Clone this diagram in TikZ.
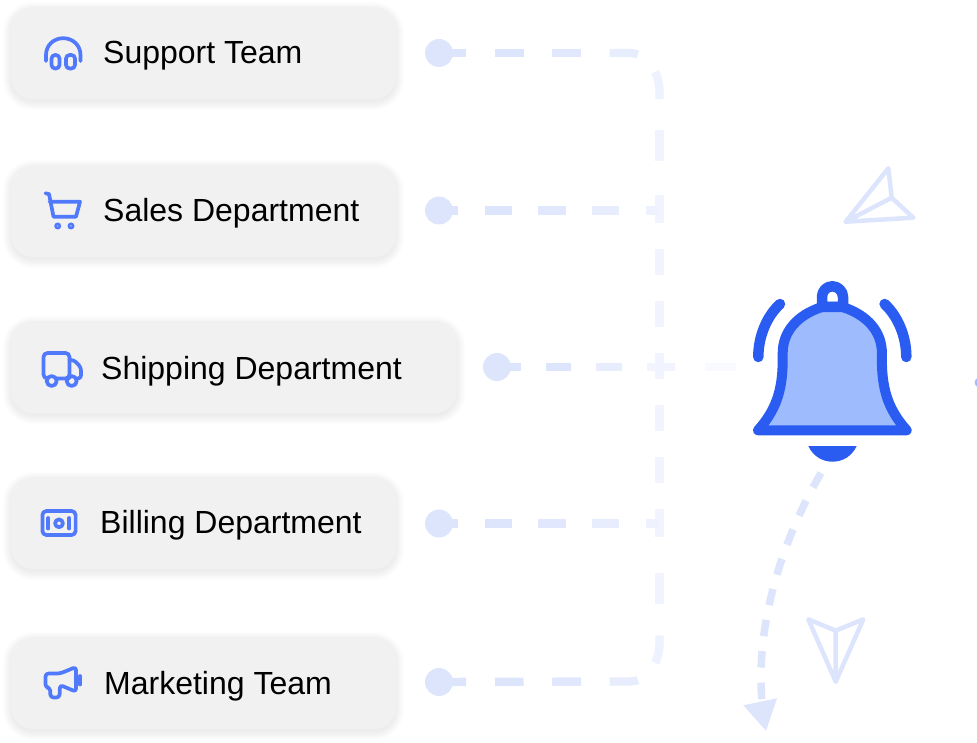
\documentclass[tikz,border=0pt]{standalone}
\usepackage{fontspec}
\setmainfont{Liberation Sans}
\definecolor{ca}{HTML}{DDE5FD}
\definecolor{cb}{HTML}{E1E8FD}
\definecolor{cc}{HTML}{E8EDFD}
\definecolor{cd}{HTML}{EEF1FE}
\definecolor{ce}{HTML}{F1F3FE}
\definecolor{cf}{HTML}{F9FAFF}
\definecolor{cardfill}{HTML}{F1F1F1}
\definecolor{iconblue}{HTML}{5079FB}
\definecolor{bellblue}{HTML}{2B5CF2}
\definecolor{bellfill}{HTML}{9DBBFD}
\tikzset{
  card/.style={fill=cardfill,rounded corners=22pt,inner sep=0pt,minimum height=92pt},
  lab/.style={anchor=base west,inner sep=0pt,text=black,font=\fontsize{32}{37}\selectfont},
  dot/.style={circle,fill=ca,inner sep=0pt,minimum size=28pt},
  flow/.style={line width=8.4pt},
  seg/.style args={#1/#2}{dash pattern=on 0pt off #1pt on #2pt off 3000pt},
  icon/.style={draw=iconblue,line width=3.7pt,line join=round,line cap=round},
  plane/.style={draw=ca,line width=4.5pt,line join=round,line cap=round},
  bellline/.style={draw=bellblue,line width=10pt,line join=round,line cap=round}
}
\newcommand\cardshadow[4]{%
  \foreach \e in {0,...,8}
    \fill[black,opacity=0.006,rounded corners={22pt+\e*1pt}]
      ({#1-\e},{#2-\e+3}) rectangle ({#3+\e},{#4+\e+3});}
\begin{document}
\begin{tikzpicture}[x=1pt,y=-1pt]
\useasboundingbox (0,0) rectangle (977,743);
% cards
\cardshadow{11}{7}{396}{99}
\cardshadow{11}{165}{396}{257}
\cardshadow{11}{321}{457}{413}
\cardshadow{11}{477}{396}{569}
\cardshadow{11}{637}{396}{729}
\node[card,minimum width=385pt] (c1) at (203.5,53) {};
\node[card,minimum width=385pt] (c2) at (203.5,211) {};
\node[card,minimum width=446pt] (c3) at (234,367) {};
\node[card,minimum width=385pt] (c4) at (203.5,523) {};
\node[card,minimum width=385pt] (c5) at (203.5,683) {};
\node[lab] (t1) at (103,64) {Support Team};
\node[lab] (t2) at (103,222) {Sales Department};
\node[lab] (t3) at (101,379.5) {Shipping Department};
\node[lab] (t4) at (100,533.5) {Billing Department};
\node[lab] (t5) at (104,694.5) {Marketing Team};
% connectors
\coordinate (j1) at (659.5,166);
\coordinate (j2) at (659.5,210.5);
\coordinate (jt) at (659.5,195);
\coordinate (jb) at (659.5,539);
\coordinate (j3) at (736,367);
\coordinate (j4) at (659.5,523.5);
\coordinate (j5) at (659.5,569);
\draw[flow,ce,dash pattern=on 28pt off 26pt on 26pt off 26.3pt on 26pt off 26pt on 26pt off 26pt on 26pt off 26pt on 26pt off 26pt on 28pt off 30pt] (jt) -- (jb);
\node[dot] (d1) at (439,53) {};
\node[dot] (d2) at (439,210.5) {};
\node[dot] (d3) at (497,367) {};
\node[dot] (d4) at (439,523.5) {};
\node[dot] (d5) at (439,682) {};
\foreach \a/\b/\c in {0/27/ca,56/28.5/ca,113/29/cb,170.5/28.5/cc,224/28/cd,283/31/ce} {
  \draw[flow,\c,seg=\a/\b] (d1.center) -- (630,53) .. controls (645,53) and (659.5,70) .. (659.5,92) -- (j1);
  \draw[flow,\c,seg=\a/\b] (d5.center) -- (630,681.5) .. controls (645,681.5) and (659.5,665) .. (659.5,643) -- (j5);
}
\foreach \a/\b/\c in {0/19/ca,46/27/ca,99/27.5/cb,153/27/cc,207/13/cd} {
  \draw[flow,\c,seg=\a/\b] (d2.center) -- (j2);
  \draw[flow,\c,seg=\a/\b] (d4.center) -- (j4);
}
\foreach \a/\b/\c in {0/24/ca,49/25/ca,99/25.5/cc,150/28/ce,208/31/cf} {
  \draw[flow,\c,seg=\a/\b] (d3.center) -- (j3);
}
% arrow
\coordinate (as) at (821,473);
\coordinate (ae) at (762,702);
\draw[ca,line width=7.5pt,dash pattern=on 16.5pt off 15pt] (as) .. controls (785,535) and (755,620) .. (ae);
\fill[ca] (743.3,705.3) -- (777,698.3) -- (766,730.7) -- cycle;
% planes
\draw[plane] (888.3,168.3) -- (891.7,197.7) -- (913.3,217.7) -- (845.7,221.7) -- cycle (891.7,197.7) -- (845.7,221.7);
\draw[plane] (808.3,619.3) -- (835.7,630.7) -- (863.3,619.3) -- (835.7,681.7) -- cycle (835.7,630.7) -- (835.7,681.7);
% bell
\draw[bellline,fill=bellfill] (758,430.3)
  .. controls (775,411) and (782.7,392) .. (782.7,360) -- (782.7,353)
  .. controls (782.7,332) and (797,315) .. (822,307) -- (842.6,307)
  .. controls (867.6,315) and (881.9,332) .. (881.9,353) -- (881.9,360)
  .. controls (881.9,392) and (889.6,411) .. (906.7,430.3) -- cycle;
\draw[draw=bellblue,line width=10.5pt,line join=round] (822,307) -- (822,297)
  .. controls (822,291) and (826.5,286.3) .. (832.3,286.3)
  .. controls (838,286.3) and (843,291) .. (843,297) -- (843,307) -- cycle;
\draw[bellline,line width=10.5pt] (780,304) .. controls (767,316) and (758.3,336) .. (758.3,357);
\draw[bellline,line width=10.5pt] (884.6,304) .. controls (897.6,316) and (906.3,336) .. (906.3,357);
\fill[bellblue] (808.3,446) -- (856.7,446) .. controls (852,456) and (843,461.7) .. (832.5,461.7) .. controls (822,461.7) and (813,456) .. (808.3,446) -- cycle;
\begin{scope}
\clip (970,370) rectangle (977,395);
\fill[iconblue!50] (979.5,382.5) circle (5);
\end{scope}
% icons
\draw[icon] (46,61) -- (46,55) .. controls (46,45) and (54,38.2) .. (63.2,38.2) .. controls (72.5,38.2) and (80.5,45) .. (80.5,55) -- (80.5,61);
\draw[icon,rounded corners=3.6pt] (51.5,55) rectangle (59.5,68.5);
\draw[icon,rounded corners=3.6pt] (66,55) rectangle (75,68.5);
\draw[icon] (45.5,193.3) -- (49,194) -- (53.5,216.7) -- (76,216.7) -- (80,201.7) -- (49.5,201.7);
\fill[iconblue] (57.7,226) circle (3.5) (71,226) circle (3.5);
\fill[iconblue!60] (57.7,226) circle (1) (71,226) circle (1);
\draw[icon,rounded corners=4pt] (46.5,378.5) -- (43.5,378.5) -- (43.5,353) -- (69.5,353) -- (69.5,378.5) -- (57,378.5);
\draw[icon,rounded corners=3pt] (69.5,360) -- (74,360) -- (81,367.5) -- (81,378.5) -- (78,378.5);
\draw[icon] (66,378.5) -- (69.5,378.5);
\draw[icon] (51.7,381) circle (5);
\draw[icon] (71.7,381) circle (5);
\draw[icon,rounded corners=4pt] (42.4,511) rectangle (75.6,535);
\draw[icon] (59,523.3) circle (3.9);
\draw[icon] (48.3,518) -- (48.3,528.6);
\draw[icon] (69.3,518) -- (69.3,528.6);
\draw[icon,rounded corners=3pt] (60,673.5) -- (76,667) -- (76,691.7) -- (60,685) -- (59.5,697.5) -- (50.5,697.5) -- (50,687.5) -- (45.5,687.5) -- (45.5,673.5) -- cycle;
\draw[icon] (80,676) -- (80,684.5);
\end{tikzpicture}
\end{document}
